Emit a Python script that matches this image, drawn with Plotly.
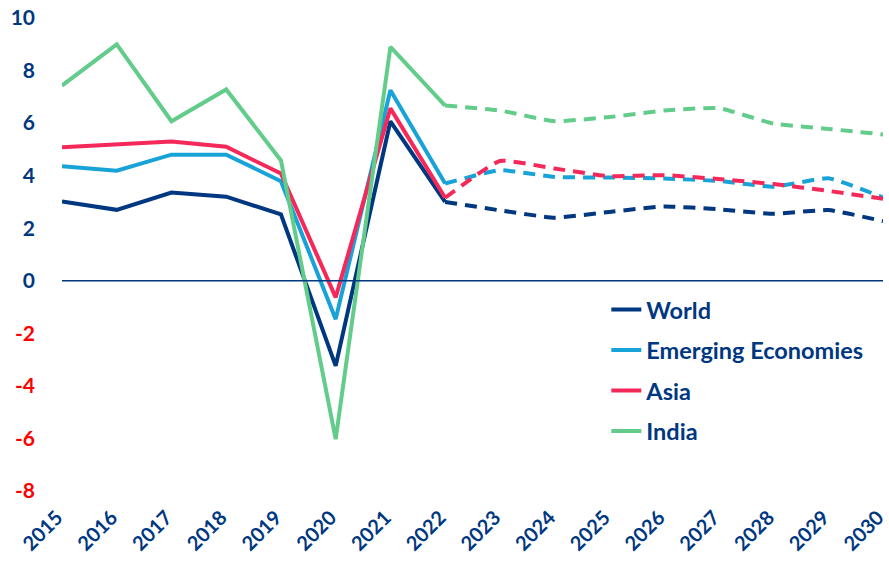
import plotly.graph_objects as go

years = list(range(2015, 2031))
split_year = 2022

world = [3.02, 2.70, 3.36, 3.20, 2.53, -3.24, 6.07, 3.00,
         2.68, 2.40, 2.62, 2.83, 2.72, 2.55, 2.69, 2.27]
emerging = [4.36, 4.19, 4.80, 4.80, 3.79, -1.46, 7.25, 3.70,
            4.21, 3.95, 3.93, 3.89, 3.80, 3.58, 3.90, 3.17]
asia = [5.08, 5.18, 5.30, 5.10, 4.08, -0.63, 6.56, 3.16,
        4.56, 4.27, 3.98, 4.02, 3.87, 3.68, 3.42, 3.12]
india = [7.43, 9.00, 6.07, 7.28, 4.58, -6.03, 8.90, 6.67,
         6.48, 6.07, 6.23, 6.48, 6.57, 5.98, 5.78, 5.57]

series = [
    ('World', world, '#003781'),
    ('Emerging Economies', emerging, '#18A3D8'),
    ('Asia', asia, '#F5285A'),
    ('India', india, '#63CC8A'),
]

y_ticks = [-8, -6, -4, -2, 0, 2, 4, 6, 8, 10]
y_labels = [('<span style="color:#FF0000">%d</span>' % v) if v < 0 else str(v) for v in y_ticks]

navy = '#003781'
k = years.index(split_year)

fig = go.Figure()
for name, vals, color in series:
    fig.add_trace(go.Scatter(
        x=years[:k + 1],
        y=vals[:k + 1],
        mode='lines',
        name=name,
        legendgroup=name,
        line=dict(color=color, width=4),
    ))
    fig.add_trace(go.Scatter(
        x=years[k:],
        y=vals[k:],
        mode='lines',
        name=name,
        legendgroup=name,
        showlegend=False,
        line=dict(color=color, width=4, dash='12px,8px', shape='spline', smoothing=0.4),
    ))

fig.add_hline(y=0, line=dict(color=navy, width=1.6))

fig.update_layout(
    width=889,
    height=563,
    margin=dict(l=62, r=6, t=18, b=72),
    plot_bgcolor='white',
    paper_bgcolor='white',
    font=dict(family='Lato', color=navy, size=18),
    legend=dict(
        x=0.663, y=0.43, xanchor='left', yanchor='top',
        font=dict(size=23.5, color=navy, family='Lato', weight='bold'),
        tracegroupgap=7,
        bgcolor='rgba(0,0,0,0)',
    ),
)
fig.update_xaxes(
    range=[2015, 2030],
    tickvals=years,
    tickangle=-45,
    showgrid=False,
    zeroline=False,
    showline=False,
    automargin=False,
    ticklabeloverflow='allow',
    ticklabelstandoff=10,
    ticklabelshift=-5,
    tickfont=dict(size=20, color=navy, family='Lato', weight='bold'),
)
fig.update_yaxes(
    range=[-8, 10],
    tickvals=y_ticks,
    ticktext=y_labels,
    showgrid=False,
    zeroline=False,
    showline=False,
    automargin=False,
    ticklabeloverflow='allow',
    ticklabelstandoff=26,
    tickfont=dict(size=21, color=navy, family='Lato', weight='bold'),
)

# drop the default 8px body margin so the figure fills the window
fig.write_html('out.html', config={'displayModeBar': False},
               post_script="document.body.style.margin='0';")
